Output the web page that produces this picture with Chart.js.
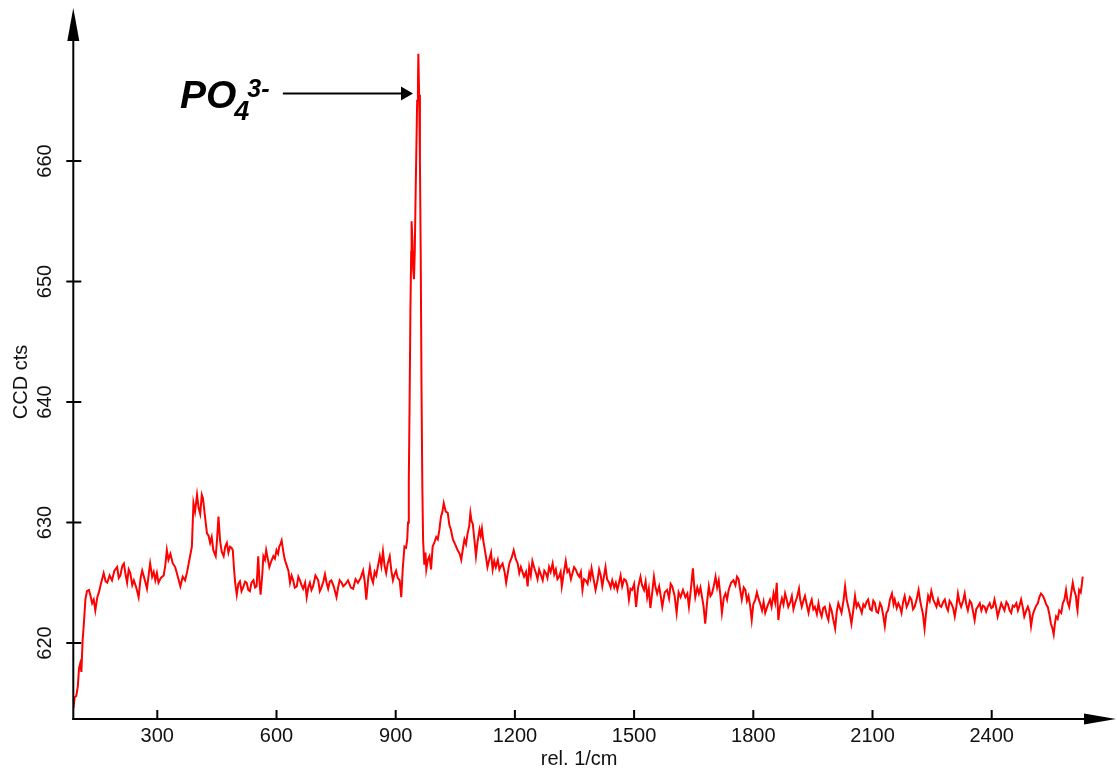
<!DOCTYPE html>
<html><head><meta charset="utf-8">
<script src="https://cdn.jsdelivr.net/npm/chart.js@4.4.1/dist/chart.umd.min.js"></script>
<style>html,body{margin:0;padding:0;background:#fff;}#wrap{width:1117px;height:769px;position:relative;}</style>
</head><body><div id="wrap"><canvas id="c"></canvas></div>
<script>
const wavenumbers = [
89,92,96,100,103,106,109,112,115,119,123,128,132,136,140,144,149,153,158,165,170,174,180,186,192,199,203,207,212,216,220,224,228,232,237,241,247,253,258,262,268,274,278,282,287,291,295,299,303,309,316,320,324,328,333,339,345,350,354,358,364,370,375,379,383,387,391,395,400,404,408,412,415,420,425,429,433,437,441,447,450,454,458,462,467,471,475,479,483,487,490,493,496,500,504,508,512,517,521,525,529,533,537,542,546,550,554,557,560,564,567,571,574,578,582,587,592,596,600,604,607,610,613,617,621,626,630,634,638,642,646,651,655,659,663,667,672,676,680,684,688,692,698,705,709,713,718,722,726,730,734,738,744,751,755,759,764,768,774,780,787,793,799,805,812,818,822,826,831,835,839,843,847,851,856,860,864,868,872,876,880,885,889,893,897,901,905,910,914,918,922,926,929,931,933,935,937,939,940,942,944,946,948,950,952,954,956,957,959,961,963,965,967,969,972,975,977,981,985,989,993,998,1002,1006,1010,1014,1017,1021,1026,1031,1035,1039,1044,1048,1052,1056,1061,1065,1069,1073,1077,1081,1085,1088,1091,1094,1098,1102,1106,1111,1114,1117,1120,1123,1127,1131,1136,1140,1144,1148,1152,1157,1161,1165,1169,1174,1178,1182,1186,1192,1197,1202,1207,1211,1215,1219,1223,1228,1232,1236,1240,1244,1249,1253,1257,1261,1266,1270,1274,1278,1282,1286,1290,1295,1299,1303,1307,1311,1315,1318,1323,1328,1332,1336,1341,1345,1349,1353,1358,1362,1366,1370,1374,1378,1383,1387,1390,1393,1398,1403,1408,1412,1416,1420,1424,1428,1432,1437,1441,1445,1450,1454,1458,1462,1466,1470,1475,1479,1483,1487,1491,1495,1500,1505,1510,1516,1520,1525,1529,1533,1537,1541,1546,1550,1554,1558,1563,1567,1571,1577,1583,1588,1592,1596,1602,1607,1612,1617,1623,1629,1634,1638,1643,1648,1651,1654,1659,1663,1667,1671,1675,1679,1684,1688,1692,1696,1701,1705,1709,1713,1717,1721,1726,1730,1734,1738,1744,1750,1755,1759,1763,1767,1771,1776,1780,1784,1788,1792,1796,1800,1805,1809,1813,1818,1822,1826,1830,1836,1842,1846,1851,1855,1859,1863,1867,1872,1876,1880,1884,1888,1893,1897,1901,1905,1910,1915,1918,1922,1926,1930,1935,1939,1943,1947,1951,1955,1960,1964,1968,1972,1976,1980,1985,1989,1993,1997,2001,2006,2010,2014,2018,2022,2027,2031,2035,2039,2043,2047,2052,2056,2060,2064,2069,2073,2077,2081,2085,2089,2094,2098,2102,2106,2110,2114,2119,2123,2127,2131,2135,2139,2144,2149,2153,2156,2161,2165,2169,2173,2177,2181,2186,2190,2194,2198,2202,2206,2211,2216,2220,2223,2227,2231,2236,2240,2244,2248,2253,2257,2261,2265,2269,2273,2278,2282,2286,2290,2294,2298,2303,2307,2311,2315,2319,2323,2328,2332,2336,2340,2345,2349,2353,2357,2361,2365,2370,2374,2378,2382,2386,2390,2395,2399,2403,2407,2411,2415,2420,2424,2428,2432,2437,2441,2445,2449,2453,2457,2462,2466,2470,2474,2478,2482,2487,2491,2495,2499,2503,2507,2512,2516,2520,2524,2529,2533,2537,2541,2545,2549,2553,2556,2559,2562,2566,2570,2575,2579,2583,2587,2591,2595,2599,2604,2608,2612,2614,2616,2618,2620,2624,2627,2629
];
const counts = [
614.6,615.5,615.6,616.4,617.9,618.3,617.6,620.2,621.5,623.6,624.3,624.4,623.9,623.3,623.6,622.7,623.8,624.2,624.9,625.8,625.1,625.0,625.6,625.2,626.0,626.3,625.4,625.6,626.4,626.6,625.7,625.0,626.1,625.8,624.8,625.2,624.6,623.8,625.4,626.0,625.3,624.5,625.6,626.6,625.5,625.9,625.2,625.8,625.0,625.4,625.6,626.4,627.7,626.9,627.4,626.6,626.3,625.7,625.2,624.7,625.5,625.2,625.9,626.6,627.3,628.0,631.6,630.9,632.3,631.2,630.7,632.3,632.0,630.5,629.1,628.9,628.3,628.8,627.7,627.2,628.4,630.5,628.5,627.6,627.2,628.0,628.3,627.5,628.0,627.9,627.7,626.2,625.0,624.0,624.9,625.1,624.3,624.7,625.1,625.0,624.4,624.3,625.0,625.2,624.6,624.7,627.2,625.2,624.0,625.6,627.2,626.9,627.7,627.0,626.3,626.8,627.2,627.0,627.7,627.4,628.0,628.2,628.5,627.6,626.9,626.4,626.0,625.0,625.6,625.2,624.6,624.7,625.5,625.2,624.8,624.5,625.0,623.8,624.6,625.0,624.4,624.7,625.6,625.2,624.3,624.6,625.1,625.7,625.0,624.5,625.1,625.2,624.7,623.8,624.6,625.2,625.0,624.7,624.9,625.2,624.6,624.5,625.3,625.0,625.4,626.0,625.1,623.6,625.4,626.3,625.4,625.0,625.9,625.6,626.5,627.2,626.4,627.6,626.4,625.8,626.6,627.2,626.0,625.2,625.7,626.0,625.4,625.2,623.8,626.3,628.0,627.9,628.6,630.0,633.5,640.0,647.5,652.5,655.0,653.5,651.0,650.2,652.5,657.0,661.0,665.0,666.5,668.9,665.5,660.0,652.0,641.0,633.0,628.5,626.5,627.5,626.1,626.9,627.2,626.1,628.0,628.4,628.8,628.6,629.4,630.5,630.8,631.6,630.9,630.8,629.8,629.4,628.6,628.3,628.0,627.7,627.4,626.9,627.8,628.6,628.2,629.1,629.7,630.8,630.1,629.9,628.6,627.2,628.4,629.4,628.9,629.5,628.6,628.0,627.2,626.3,627.0,627.5,626.1,626.8,626.3,626.9,626.1,626.4,626.6,625.9,625.0,625.8,626.6,627.1,627.7,627.0,626.6,625.8,626.3,625.9,625.5,625.9,624.7,626.3,625.6,626.8,626.2,625.8,625.3,626.1,625.6,625.2,626.0,625.8,625.4,626.3,625.9,626.6,625.7,626.1,625.3,625.5,625.9,624.7,625.8,626.8,625.9,626.1,625.3,625.8,626.3,626.1,625.7,625.5,625.9,624.4,625.3,625.2,624.9,625.8,625.4,626.2,625.3,624.4,625.2,626.1,625.6,624.7,625.5,626.3,625.3,625.0,624.6,625.2,624.6,625.0,624.4,625.0,625.6,624.7,625.3,625.2,624.8,623.6,624.5,624.4,624.9,623.0,624.6,625.5,624.8,624.4,625.1,623.8,624.5,622.9,624.3,625.5,624.6,624.1,624.7,623.9,623.0,624.2,624.4,623.7,624.9,624.7,623.9,622.5,624.2,623.8,624.4,623.8,624.1,623.0,624.5,626.2,624.8,623.8,624.6,624.1,624.6,623.8,623.0,621.6,623.5,624.7,623.9,624.1,624.8,625.5,624.6,625.2,624.0,622.5,623.8,624.1,623.6,624.4,625.0,625.2,624.8,625.5,625.3,624.4,623.6,624.6,624.4,623.5,623.9,623.1,621.9,623.2,623.6,624.2,623.7,623.2,622.7,623.4,622.5,623.1,623.6,623.0,624.1,623.4,625.0,621.9,623.0,623.7,623.2,624.1,623.6,623.0,623.4,623.9,622.8,623.3,623.8,624.5,623.6,623.0,623.5,623.9,623.1,622.5,623.2,623.6,622.8,623.0,622.4,623.3,622.6,622.2,622.9,623.0,622.3,621.9,623.1,622.7,622.0,621.2,622.6,623.3,622.9,622.5,623.5,624.7,623.6,623.0,622.4,621.6,622.8,623.9,623.0,623.3,622.9,622.5,623.2,623.0,623.4,623.6,622.8,622.7,623.5,623.3,622.6,622.5,623.3,623.0,622.3,621.4,622.5,622.7,623.6,624.1,623.2,623.6,622.9,623.3,623.0,622.5,623.4,623.9,623.0,623.3,623.8,623.6,622.8,623.0,623.6,624.4,623.5,623.0,622.4,621.2,622.9,623.9,623.5,624.3,623.6,623.3,623.0,623.6,623.1,623.0,623.4,623.6,623.0,622.7,623.5,623.3,622.9,622.2,623.0,624.1,623.4,623.0,623.5,624.1,623.2,622.7,623.5,623.3,622.6,621.9,622.8,623.0,623.3,622.7,623.1,623.0,622.6,623.0,623.3,622.9,623.0,623.6,623.0,622.2,622.8,623.3,623.0,622.7,623.4,623.2,622.7,622.5,623.1,623.0,623.3,622.7,623.1,623.6,623.0,622.2,622.7,623.0,622.6,621.4,622.3,622.7,623.1,623.3,623.8,624.1,623.9,623.6,623.2,623.0,622.4,621.6,621.2,620.7,621.6,622.2,622.0,622.7,622.5,623.3,623.6,624.4,623.4,623.0,623.9,625.0,624.3,623.9,623.1,622.7,623.6,624.4,624.2,624.9,625.5
];
const xTickValues = [300, 600, 900, 1200, 1500, 1800, 2100, 2400];
const yTickValues = [620, 630, 640, 650, 660];
const xAxisTitle = 'rel. 1/cm';
const yAxisTitle = 'CCD cts';
const xRange = [88.6, 2634.8];
const yRange = [613.69, 669.63];
// annotation (data units)
const annotationLabel = { main: 'PO', sub: '4', sup: '3-' };
const annotationPos = { textX: 357, textY: 664.4, arrowFromX: 616, arrowToX: 943.5, arrowY: 665.6 };

const FONT = '"Liberation Sans", Arial, Helvetica, sans-serif';

const axesPlugin = {
  id: 'axesArrows',
  afterDraw(chart) {
    const { ctx, chartArea, scales } = chart;
    const xs = scales.x, ys = scales.y;
    const x0 = chartArea.left, y0 = chartArea.bottom;
    ctx.save();
    ctx.strokeStyle = '#000';
    ctx.fillStyle = '#000';
    ctx.lineWidth = 2;
    const yTip = 8;
    ctx.beginPath(); ctx.moveTo(x0, y0 + 1); ctx.lineTo(x0, yTip + 20); ctx.stroke();
    ctx.beginPath(); ctx.moveTo(x0, yTip); ctx.lineTo(x0 - 6, yTip + 33); ctx.lineTo(x0 + 6, yTip + 33); ctx.closePath(); ctx.fill();
    const xTip = chart.width - 1;
    ctx.beginPath(); ctx.moveTo(x0 - 1, y0); ctx.lineTo(xTip - 20, y0); ctx.stroke();
    ctx.beginPath(); ctx.moveTo(xTip, y0); ctx.lineTo(xTip - 32, y0 - 5.5); ctx.lineTo(xTip - 32, y0 + 5.5); ctx.closePath(); ctx.fill();
    xs.ticks.forEach(t => {
      const px = xs.getPixelForValue(t.value);
      ctx.beginPath(); ctx.moveTo(px, y0); ctx.lineTo(px, y0 - 9); ctx.stroke();
    });
    ys.ticks.forEach(t => {
      const py = ys.getPixelForValue(t.value);
      ctx.beginPath(); ctx.moveTo(x0 - 7, py); ctx.lineTo(x0 + 8, py); ctx.stroke();
      ctx.save();
      ctx.translate(x0 - 28, py);
      ctx.rotate(-Math.PI / 2);
      ctx.font = '20px ' + FONT;
      ctx.textAlign = 'center';
      ctx.textBaseline = 'middle';
      ctx.fillStyle = '#111';
      ctx.fillText(String(t.value), 0, 0);
      ctx.restore();
    });
    const tx = xs.getPixelForValue(annotationPos.textX);
    const ty = ys.getPixelForValue(annotationPos.textY);
    ctx.fillStyle = '#000';
    ctx.textAlign = 'left';
    ctx.textBaseline = 'alphabetic';
    ctx.font = 'italic bold 39px ' + FONT;
    ctx.fillText(annotationLabel.main, tx, ty);
    const w1 = ctx.measureText(annotationLabel.main).width;
    ctx.font = 'italic bold 27px ' + FONT;
    ctx.fillText(annotationLabel.sub, tx + w1 - 2, ty + 12);
    const w2 = ctx.measureText(annotationLabel.sub).width;
    ctx.font = 'italic bold 25px ' + FONT;
    ctx.fillText(annotationLabel.sup, tx + w1 + w2 - 4, ty - 11);
    const ax1 = xs.getPixelForValue(annotationPos.arrowFromX);
    const ax2 = xs.getPixelForValue(annotationPos.arrowToX);
    const ay = ys.getPixelForValue(annotationPos.arrowY);
    ctx.lineWidth = 2;
    ctx.beginPath(); ctx.moveTo(ax1, ay); ctx.lineTo(ax2 - 8, ay); ctx.stroke();
    ctx.beginPath(); ctx.moveTo(ax2, ay); ctx.lineTo(ax2 - 12, ay - 7); ctx.lineTo(ax2 - 12, ay + 7); ctx.closePath(); ctx.fill();
    ctx.restore();
  }
};

new Chart(document.getElementById('c'), {
  type: 'line',
  data: {
    datasets: [{
      label: 'spectrum',
      data: wavenumbers.map((w, i) => ({ x: w, y: counts[i] })),
      borderColor: '#ff0000',
      borderWidth: 2,
      pointRadius: 0,
      tension: 0,
      fill: false
    }]
  },
  options: {
    responsive: true,
    maintainAspectRatio: false,
    animation: false,
    layout: { padding: { top: 45, right: 32, bottom: 0, left: 0 } },
    plugins: { legend: { display: false }, tooltip: { enabled: false } },
    scales: {
      x: {
        type: 'linear',
        min: xRange[0], max: xRange[1],
        afterBuildTicks: s => { s.ticks = xTickValues.map(v => ({ value: v })); },
        afterFit: s => { s.height = 50; },
        grid: { display: false, drawTicks: false },
        border: { display: false },
        ticks: { color: '#111', font: { family: FONT, size: 20 }, padding: 5, maxRotation: 0, autoSkip: false, callback: v => String(v) },
        title: { display: true, text: xAxisTitle, color: '#111', font: { family: FONT, size: 20, lineHeight: 1 }, padding: { top: 0, bottom: 0 } }
      },
      y: {
        type: 'linear',
        min: yRange[0], max: yRange[1],
        afterBuildTicks: s => { s.ticks = yTickValues.map(v => ({ value: v })); },
        afterFit: s => { s.width = 73.3; },
        grid: { display: false, drawTicks: false },
        border: { display: false },
        ticks: { display: false },
        title: { display: true, text: yAxisTitle, color: '#111', font: { family: FONT, size: 20, lineHeight: 1 }, padding: { top: 11, bottom: 0 } }
      }
    }
  },
  plugins: [axesPlugin]
});
</script>
</body></html>
